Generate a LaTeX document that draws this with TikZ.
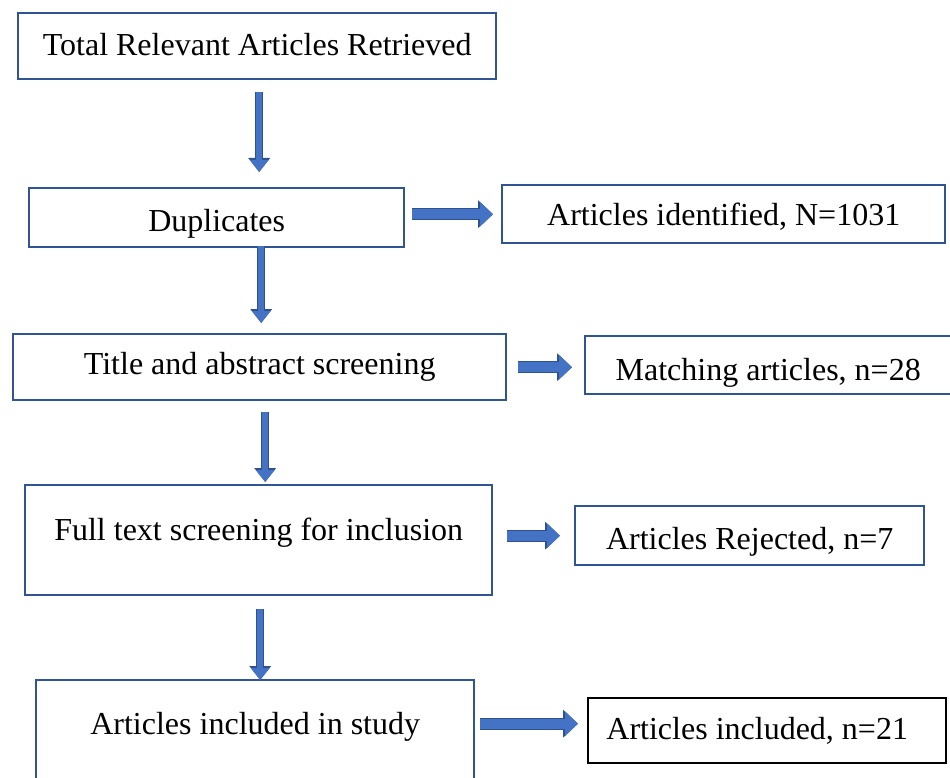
\documentclass[tikz,border=0pt]{standalone}
\usepackage{fontspec}
\setmainfont{Liberation Serif}
\usepackage{xcolor}
\usetikzlibrary{arrows.meta,positioning,calc}
\definecolor{boxblue}{RGB}{47,85,151}
\definecolor{arfill}{RGB}{68,114,196}
\definecolor{arline}{RGB}{47,82,143}

\begin{document}
\begin{tikzpicture}[x=1pt,y=1pt,
  box/.style={draw=boxblue,line width=2.4pt,inner xsep=0pt,inner ysep=0pt,align=center,
    anchor=north west,font=\fontsize{32}{38}\selectfont},
  down/.style={line width=6pt,draw=arfill,-{Triangle[length=12pt,width=18pt]},
    preaction={draw=arline,line width=8pt,-{Triangle[length=14pt,width=21pt]}}},
  side/.style={line width=10pt,draw=arfill,-{Triangle[length=13pt,width=24pt]},
    preaction={draw=arline,line width=12pt,-{Triangle[length=15pt,width=27pt]}}}]
\useasboundingbox (0,0) rectangle (950,-778);
\clip (0,0) rectangle (950,-778);
% main column
\node[box,minimum width=478pt,text height=42pt,text depth=24pt] (tot) at (17,-12)
  {Total Relevant Articles Retrieved};
\node[box,minimum width=375pt,text height=43pt,text depth=16pt] (dup) at (28,-187)
  {Duplicates};
\node[box,minimum width=493pt,text height=40pt,text depth=26pt] (tit) at (12,-333)
  {Title and abstract screening};
\node[box,minimum width=467pt,text height=55pt,text depth=55pt] (ful) at (24,-484)
  {Full text screening for inclusion};
\node[box,minimum width=438pt,text height=54pt,text depth=70pt] (stu) at (35,-679)
  {Articles included in study};
% side boxes
\node[box,minimum width=443pt,text height=40pt,text depth=18pt] (ide) at (501,-184)
  {Articles identified, N=1031};
\node[box,minimum width=366pt,text height=44pt,text depth=14pt] (mat) at (584,-335)
  {Matching articles, n=28};
\node[box,minimum width=349pt,text height=43pt,text depth=16pt] (rej) at (574,-505)
  {Articles Rejected, n=7};
\node[box,draw=black,minimum width=358pt,text height=41pt,text depth=24pt] (inc) at (587,-697)
  {Articles included, n=21\hspace*{20pt}};
% arrows down
\draw[down] ([xshift=2pt,yshift=-12pt]tot.south) -- ([xshift=2pt,yshift=15pt]tot.south |- dup.north);
\draw[down] ([xshift=44.5pt,yshift=2pt]dup.south) -- ([xshift=44.5pt,yshift=10pt]dup.south |- tit.north);
\draw[down] ([xshift=5.5pt,yshift=-11pt]tit.south) -- ([xshift=5.5pt,yshift=2pt]tit.south |- ful.north);
\draw[down] ([xshift=1.5pt,yshift=-13pt]ful.south) -- ([xshift=1.5pt,yshift=-1pt]ful.south |- stu.north);
% arrows right
\draw[side] ([xshift=7pt]dup.east |- ide.west) -- ([xshift=-8pt]ide.west);
\draw[side] ([xshift=11pt]tit.east) -- ([xshift=-12pt]mat.west |- tit.east);
\draw[side] ([xshift=14pt]ful.east |- rej.west) -- ([xshift=-14pt]rej.west);
\draw[side] ([xshift=5pt,yshift=7pt]stu.east |- inc.west) -- ([xshift=-9pt,yshift=7pt]inc.west);
\end{tikzpicture}
\end{document}
